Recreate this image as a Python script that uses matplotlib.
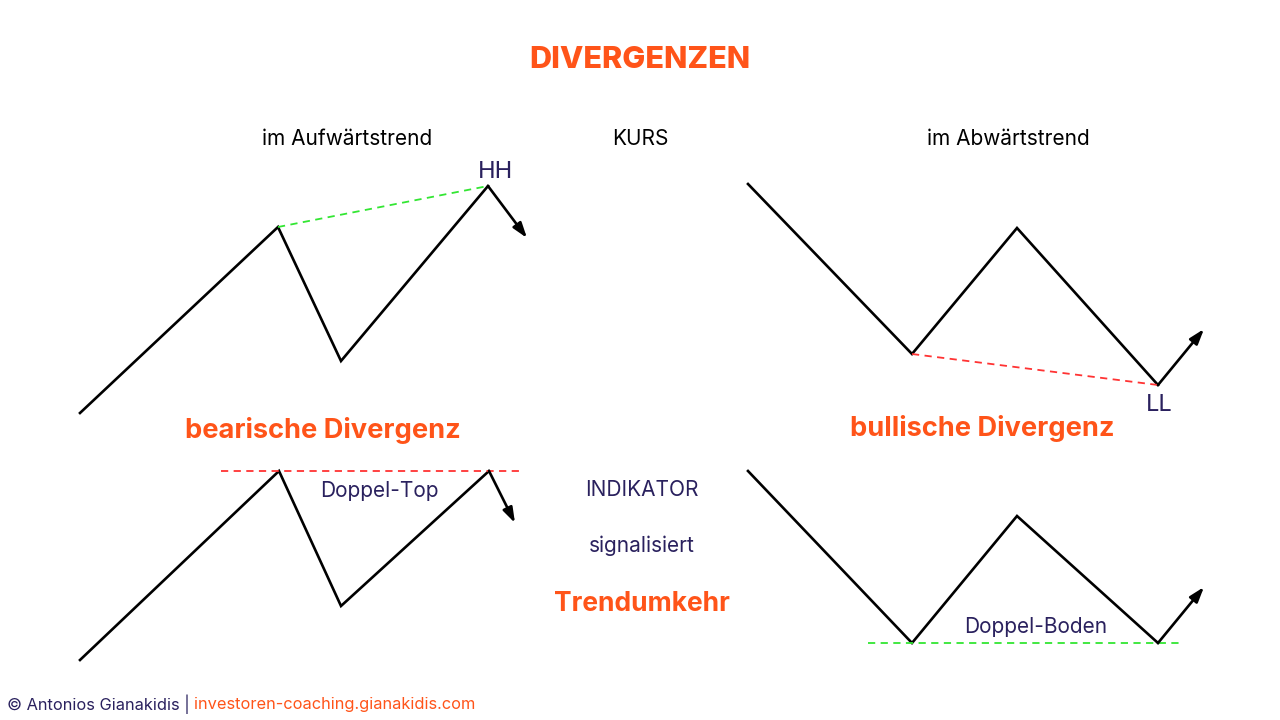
import matplotlib
matplotlib.use("Agg")
import matplotlib.pyplot as plt

ORANGE = "#ff5419"
NAVY = "#2a215e"
GREEN = "#33e633"
RED = "#ff3333"

# zig-zag paths (pixel coordinates, y downward)
tl_x = [80, 278, 341, 488]; tl_y = [413, 227, 361, 186]; tl_arrow = (527, 238)
tr_x = [748, 912, 1017, 1158]; tr_y = [184, 354, 228, 385]; tr_arrow = (1204, 329)
bl_x = [80, 279, 341, 489]; bl_y = [660, 471, 606, 471]; bl_arrow = (515, 523)
br_x = [748, 912, 1017, 1158]; br_y = [471, 643, 516, 643]; br_arrow = (1204, 587)

tl_div = ([278, 488], [227, 186])
tr_div = ([912, 1158], [354, 385])
bl_div = ([221, 522], [471, 471])
br_div = ([868, 1183], [643, 643])

plt.rcParams['font.family'] = ['Inter', 'DejaVu Sans']

fig = plt.figure(figsize=(12.8, 7.2), dpi=100)
ax = fig.add_axes([0, 0, 1, 1])
ax.set_xlim(0, 1280)
ax.set_ylim(720, 0)
ax.axis('off')

for xs, ys, arr in [(tl_x, tl_y, tl_arrow), (tr_x, tr_y, tr_arrow),
                    (bl_x, bl_y, bl_arrow), (br_x, br_y, br_arrow)]:
    ax.plot(xs, ys, color='black', lw=1.9, solid_joinstyle='miter')
    ax.annotate('', xy=arr, xytext=(xs[-1], ys[-1]),
                arrowprops=dict(arrowstyle='-|>,head_length=0.9,head_width=0.3',
                                color='black', lw=1.9, shrinkA=0, shrinkB=0))

ax.plot(*tl_div, color=GREEN, lw=1.3, ls=(0, (4, 3)))
ax.plot(*tr_div, color=RED, lw=1.3, ls=(0, (4, 3)))
ax.plot(*bl_div, color=RED, lw=1.3, ls=(0, (4, 3)))
ax.plot(*br_div, color=GREEN, lw=1.3, ls=(0, (4, 3)))

ax.text(640, 60, "DIVERGENZEN", color=ORANGE, fontsize=22, fontweight='heavy', ha='center', va='center')
ax.text(347, 139, "im Aufwärtstrend", color='black', fontsize=15, ha='center', va='center')
ax.text(640, 139, "KURS", color='black', fontsize=15, ha='center', va='center')
ax.text(1008, 139, "im Abwärtstrend", color='black', fontsize=15, ha='center', va='center')
ax.text(496, 172, "HH", color=NAVY, fontsize=17, ha='center', va='center')
ax.text(1159, 405, "LL", color=NAVY, fontsize=17, ha='center', va='center')
ax.text(323, 431, "bearische Divergenz", color=ORANGE, fontsize=19.6, fontweight='bold', ha='center', va='center')
ax.text(982, 429, "bullische Divergenz", color=ORANGE, fontsize=19.6, fontweight='bold', ha='center', va='center')
ax.text(379, 491, "Doppel-Top", color=NAVY, fontsize=15, ha='center', va='center')
ax.text(642, 490, "INDIKATOR", color=NAVY, fontsize=15, ha='center', va='center')
ax.text(642, 546, "signalisiert", color=NAVY, fontsize=15, ha='center', va='center')
ax.text(642, 604, "Trendumkehr", color=ORANGE, fontsize=19, fontweight='bold', ha='center', va='center')
ax.text(1036, 627, "Doppel-Boden", color=NAVY, fontsize=15, ha='center', va='center')

t1 = ax.text(7, 704, "© Antonios Gianakidis | ", color=NAVY, fontsize=11.8, ha='left', va='center')
ax.annotate("investoren-coaching.gianakidis.com", xycoords=t1, xy=(1, 0.5), va='center', ha='left',
            color=ORANGE, fontsize=11.8)

fig.savefig("out.png", dpi=100, facecolor='white')
